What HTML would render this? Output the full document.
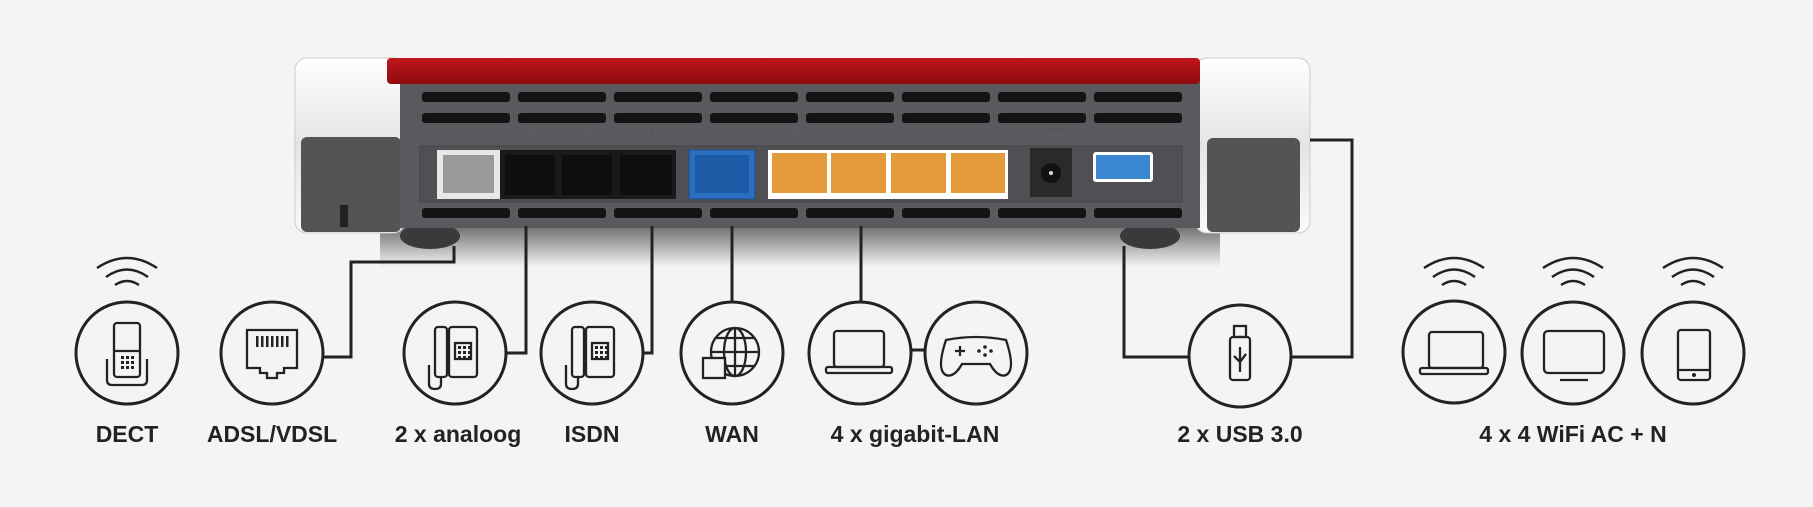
<!DOCTYPE html>
<html><head><meta charset="utf-8"><style>
html,body{margin:0;padding:0;background:#f4f4f4;}
svg{display:block}
text.l{font-family:"Liberation Sans",sans-serif;font-weight:bold;font-size:23px;fill:#222;text-anchor:middle}
text.p{font-family:"Liberation Sans",sans-serif;font-weight:bold;font-size:11px;fill:#5e5e62;text-anchor:middle}
</style></head><body>
<svg width="1813" height="507" viewBox="0 0 1813 507" xmlns="http://www.w3.org/2000/svg">
<defs>
<linearGradient id="sh" x1="0" y1="0" x2="0" y2="1">
<stop offset="0" stop-color="#000" stop-opacity="0.6"/><stop offset="1" stop-color="#000" stop-opacity="0"/></linearGradient>
<linearGradient id="cap" x1="0" y1="0" x2="0" y2="1">
<stop offset="0" stop-color="#fff"/><stop offset="0.5" stop-color="#e4e4e4"/><stop offset="1" stop-color="#fafafa"/></linearGradient>
<linearGradient id="red" x1="0" y1="0" x2="0" y2="1">
<stop offset="0" stop-color="#c0161c"/><stop offset="1" stop-color="#8e0b0f"/></linearGradient>
</defs>
<rect width="1813" height="507" fill="#f4f4f4"/>
<rect x="380" y="222" width="840" height="45" fill="url(#sh)"/>
<ellipse cx="430" cy="236" rx="30" ry="13" fill="#3a3a3c"/>
<ellipse cx="1150" cy="236" rx="30" ry="13" fill="#3a3a3c"/>
<rect x="295" y="58" width="110" height="175" rx="12" fill="url(#cap)" stroke="#ccc"/>
<rect x="1195" y="58" width="115" height="175" rx="12" fill="url(#cap)" stroke="#ccc"/>
<rect x="301" y="137" width="100" height="95" rx="6" fill="#545457"/>
<rect x="1207" y="138" width="93" height="94" rx="6" fill="#545457"/>
<rect x="340" y="205" width="8" height="22" fill="#222"/>
<rect x="400" y="80" width="800" height="148" fill="#5a5a5e"/>
<rect x="387" y="58" width="813" height="26" rx="4" fill="url(#red)"/>
<g fill="#141414">
<rect x="422" y="92" width="88" height="10" rx="3"/><rect x="518" y="92" width="88" height="10" rx="3"/><rect x="614" y="92" width="88" height="10" rx="3"/><rect x="710" y="92" width="88" height="10" rx="3"/><rect x="806" y="92" width="88" height="10" rx="3"/><rect x="902" y="92" width="88" height="10" rx="3"/><rect x="998" y="92" width="88" height="10" rx="3"/><rect x="1094" y="92" width="88" height="10" rx="3"/>
<rect x="422" y="113" width="88" height="10" rx="3"/><rect x="518" y="113" width="88" height="10" rx="3"/><rect x="614" y="113" width="88" height="10" rx="3"/><rect x="710" y="113" width="88" height="10" rx="3"/><rect x="806" y="113" width="88" height="10" rx="3"/><rect x="902" y="113" width="88" height="10" rx="3"/><rect x="998" y="113" width="88" height="10" rx="3"/><rect x="1094" y="113" width="88" height="10" rx="3"/>
<rect x="422" y="208" width="88" height="10" rx="3"/><rect x="518" y="208" width="88" height="10" rx="3"/><rect x="614" y="208" width="88" height="10" rx="3"/><rect x="710" y="208" width="88" height="10" rx="3"/><rect x="806" y="208" width="88" height="10" rx="3"/><rect x="902" y="208" width="88" height="10" rx="3"/><rect x="998" y="208" width="88" height="10" rx="3"/><rect x="1094" y="208" width="88" height="10" rx="3"/>
</g>
<rect x="420" y="146" width="762" height="56" fill="#505054" stroke="#444" />
<text class="p" x="468" y="138">DSL</text><text class="p" x="530" y="138">FON 1</text><text class="p" x="588" y="138">FON 2</text><text class="p" x="646" y="138">FON S₀</text>
<text class="p" x="722" y="138">WAN</text><text class="p" x="798" y="138">LAN 1</text><text class="p" x="856" y="138">LAN 2</text><text class="p" x="916" y="138">LAN 3</text><text class="p" x="976" y="138">LAN 4</text>
<text class="p" x="1050" y="138">Power</text><text class="p" x="1123" y="138">USB</text>
<rect x="437" y="150" width="63" height="49" fill="#e8e8e8"/><rect x="443" y="155" width="51" height="38" fill="#9a9a9a"/>
<rect x="500" y="150" width="176" height="49" fill="#1a1a1a"/>
<rect x="505" y="155" width="50" height="40" fill="#0e0e0e"/><rect x="562" y="155" width="50" height="40" fill="#0e0e0e"/><rect x="620" y="155" width="52" height="40" fill="#0e0e0e"/>
<rect x="689" y="150" width="66" height="49" fill="#2a6fc0" stroke="#1c4f8c"/><rect x="695" y="155" width="54" height="38" fill="#1c5aa6"/>
<rect x="768" y="150" width="240" height="49" fill="#fff"/>
<rect x="772" y="153" width="55" height="40" fill="#e39a3a"/><rect x="831" y="153" width="55" height="40" fill="#e39a3a"/><rect x="891" y="153" width="55" height="40" fill="#e39a3a"/><rect x="951" y="153" width="54" height="40" fill="#e39a3a"/>
<rect x="1030" y="148" width="42" height="49" fill="#2a2a2a"/><circle cx="1051" cy="173" r="10" fill="#111"/><circle cx="1051" cy="173" r="2" fill="#ddd"/>
<rect x="1093" y="152" width="60" height="30" rx="3" fill="#fff"/><rect x="1096" y="155" width="54" height="24" fill="#3a86d0"/>
<g fill="none" stroke="#222" stroke-width="3">
<polyline points="324,357 351,357 351,262 454,262 454,246"/>
<polyline points="506,353 526,353 526,226"/>
<polyline points="644,353 652,353 652,226"/>
<line x1="732" y1="226" x2="732" y2="302"/>
<line x1="861" y1="226" x2="861" y2="302"/>
<line x1="910" y1="350" x2="926" y2="350"/>
<polyline points="1124,246 1124,357 1189,357"/>
<polyline points="1292,357 1352,357 1352,140 1310,140"/>
</g>
<g fill="none" stroke="#222" stroke-width="3">
<circle cx="127" cy="353" r="51"/><circle cx="272" cy="353" r="51"/><circle cx="455" cy="353" r="51"/><circle cx="592" cy="353" r="51"/>
<circle cx="732" cy="353" r="51"/><circle cx="860" cy="353" r="51"/><circle cx="976" cy="353" r="51"/><circle cx="1240" cy="356" r="51"/>
<circle cx="1454" cy="352" r="51"/><circle cx="1573" cy="353" r="51"/><circle cx="1693" cy="353" r="51"/>
</g>
<g fill="none" stroke="#222" stroke-width="2.5">
<g transform="translate(127,0)"><path d="M-30 268 Q0 248 30 268"/><path d="M-21 277 Q0 262 21 277"/><path d="M-12 285 Q0 277 12 285"/></g>
<g transform="translate(1454,0)"><path d="M-30 268 Q0 248 30 268"/><path d="M-21 277 Q0 262 21 277"/><path d="M-12 285 Q0 277 12 285"/></g>
<g transform="translate(1573,0)"><path d="M-30 268 Q0 248 30 268"/><path d="M-21 277 Q0 262 21 277"/><path d="M-12 285 Q0 277 12 285"/></g>
<g transform="translate(1693,0)"><path d="M-30 268 Q0 248 30 268"/><path d="M-21 277 Q0 262 21 277"/><path d="M-12 285 Q0 277 12 285"/></g>
</g>
<g fill="none" stroke="#222" stroke-width="2.3">
<rect x="114" y="323" width="26" height="54" rx="3"/><line x1="114" y1="351" x2="140" y2="351"/>
<path d="M107 359 V380 Q107 385 112 385 H142 Q147 385 147 380 V359"/>
<path d="M247 330 H297 V368 H284 V373 H277 V378 H267 V373 H260 V368 H247 Z"/>
<g transform="translate(455,0)"><rect x="-20" y="327" width="12" height="50" rx="3"/><rect x="-6" y="327" width="28" height="50" rx="3"/><rect x="0" y="343" width="16" height="16"/><path d="M-14 377 V384 Q-14 389 -20 389 Q-26 389 -26 384 V365"/></g>
<g transform="translate(592,0)"><rect x="-20" y="327" width="12" height="50" rx="3"/><rect x="-6" y="327" width="28" height="50" rx="3"/><rect x="0" y="343" width="16" height="16"/><path d="M-14 377 V384 Q-14 389 -20 389 Q-26 389 -26 384 V365"/></g>
<circle cx="735" cy="352" r="24"/><ellipse cx="735" cy="352" rx="11" ry="24"/><line x1="711" y1="352" x2="759" y2="352"/><line x1="735" y1="328" x2="735" y2="376"/><path d="M716 338 H754 M716 366 H754"/>
<rect x="703" y="358" width="22" height="20" fill="#f4f4f4"/>
<rect x="834" y="331" width="50" height="36" rx="3"/><rect x="826" y="367" width="66" height="6" rx="2"/>
<rect x="1429" y="332" width="54" height="36" rx="3"/><rect x="1420" y="368" width="68" height="6" rx="2"/>
<path d="M946 340 Q976 334 1006 340 Q1016 370 1006 375 Q998 378 990 364 H962 Q954 378 946 375 Q936 370 946 340 Z"/>
<path d="M955 351 H965 M960 346 V356"/>
<rect x="1230" y="337" width="20" height="43" rx="3"/><rect x="1234" y="326" width="12" height="11"/><path d="M1240 347 V372 M1234 356 L1240 362 L1246 354"/>
<rect x="1544" y="331" width="60" height="42" rx="4"/><line x1="1560" y1="380" x2="1588" y2="380"/>
<rect x="1678" y="330" width="32" height="50" rx="3"/><line x1="1678" y1="370" x2="1710" y2="370"/>
</g>
<g fill="#222">
<circle cx="1694" cy="375" r="2"/>
<circle cx="985" cy="347" r="1.8"/><circle cx="991" cy="351" r="1.8"/><circle cx="985" cy="355" r="1.8"/><circle cx="979" cy="351" r="1.8"/>
<rect x="256" y="336" width="2.5" height="11"/><rect x="261" y="336" width="2.5" height="11"/><rect x="266" y="336" width="2.5" height="11"/><rect x="271" y="336" width="2.5" height="11"/><rect x="276" y="336" width="2.5" height="11"/><rect x="281" y="336" width="2.5" height="11"/><rect x="286" y="336" width="2.5" height="11"/>
</g>
<g fill="#222">
<g transform="translate(121,356)"><rect x="0" y="0" width="3" height="3"/><rect x="5" y="0" width="3" height="3"/><rect x="10" y="0" width="3" height="3"/><rect x="0" y="5" width="3" height="3"/><rect x="5" y="5" width="3" height="3"/><rect x="10" y="5" width="3" height="3"/><rect x="0" y="10" width="3" height="3"/><rect x="5" y="10" width="3" height="3"/><rect x="10" y="10" width="3" height="3"/></g>
<g transform="translate(458,346)"><rect x="0" y="0" width="3" height="3"/><rect x="5" y="0" width="3" height="3"/><rect x="10" y="0" width="3" height="3"/><rect x="0" y="5" width="3" height="3"/><rect x="5" y="5" width="3" height="3"/><rect x="10" y="5" width="3" height="3"/><rect x="0" y="10" width="3" height="3"/><rect x="5" y="10" width="3" height="3"/><rect x="10" y="10" width="3" height="3"/></g>
<g transform="translate(595,346)"><rect x="0" y="0" width="3" height="3"/><rect x="5" y="0" width="3" height="3"/><rect x="10" y="0" width="3" height="3"/><rect x="0" y="5" width="3" height="3"/><rect x="5" y="5" width="3" height="3"/><rect x="10" y="5" width="3" height="3"/><rect x="0" y="10" width="3" height="3"/><rect x="5" y="10" width="3" height="3"/><rect x="10" y="10" width="3" height="3"/></g>
</g>
<text class="l" x="127" y="442">DECT</text>
<text class="l" x="272" y="442">ADSL/VDSL</text>
<text class="l" x="458" y="442">2 x analoog</text>
<text class="l" x="592" y="442">ISDN</text>
<text class="l" x="732" y="442">WAN</text>
<text class="l" x="915" y="442">4 x gigabit-LAN</text>
<text class="l" x="1240" y="442">2 x USB 3.0</text>
<text class="l" x="1573" y="442">4 x 4 WiFi AC + N</text>
</svg>
</body></html>
